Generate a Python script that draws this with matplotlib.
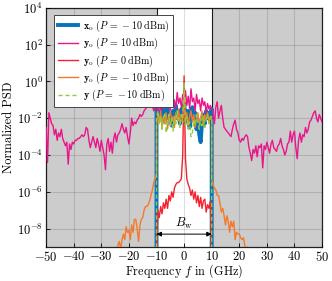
import numpy as np
import matplotlib
matplotlib.use("Agg")
import matplotlib.pyplot as plt

plt.rcParams['font.family'] = 'serif'
plt.rcParams['font.serif'] = ['cmr10']
plt.rcParams['mathtext.fontset'] = 'cm'
plt.rcParams['axes.formatter.use_mathtext'] = True

# frequency grids (GHz)
f_full = np.arange(-50, 50.5, 0.5)
f_band = np.arange(-10, 10.5, 0.5)
f_orange_left = np.arange(-25, -9.5, 0.5)
f_orange_right = np.arange(10, 24.5, 0.5)

# log10 of normalized PSD, y_o at P = 10 dBm (-50 ... 50)
pink_left = [-2.5, -4.4, -1.7, -2.0, -2.3, -2.4, -2.9, -2.6, -3.2, -2.8,
             -3.0, -2.6, -3.1, -3.3, -3.5, -3.3, -4.5, -3.4, -3.7, -3.3,
             -3.4, -3.2, -3.2, -3.1, -3.1, -3.0, -2.9, -3.0, -2.9, -2.5,
             -2.6, -3.2, -3.6, -3.3, -3.0, -3.3, -3.6, -3.1, -3.4, -3.8,
             -3.2, -3.6, -4.0, -4.8, -3.4, -3.1, -3.8, -3.3, -3.9, -3.1,
             -2.8, -3.3, -2.9, -2.8, -2.6, -2.3, -2.6, -2.8, -2.5, -3.0,
             -3.4, -2.8, -2.0, -2.4, -2.2, -2.3, -2.1, -2.0, -1.8, -1.9,
             -1.8, -1.6, -1.5, -1.4, -1.1, -1.0, -1.0, -1.3, -1.6, -1.4]
pink_mid = [-1.2, -1.8, -1.2, -1.6, -1.0, -1.5, -1.3, -0.8, -1.4, -1.1,
            -1.6, -0.9, -1.3, -1.0, -1.5, -0.6, -1.2, -0.9, -1.4, -0.7,
            -1.0, -0.5, -1.3, -0.8, -1.5, -0.4, -1.1, -0.9, -1.6, -0.7,
            -1.2, -1.0, -1.6, -0.9, -1.3, -1.1, -1.7, -1.2, -1.5, -1.3,
            -1.5]
pink_right = [-1.7, -2.3, -1.4, -1.1, -2.0, -1.6, -1.3, -2.0, -2.5,
              -2.6, -2.7, -2.8, -2.9, -3.0, -2.6, -2.3, -2.1, -2.6, -2.8,
              -3.2, -3.3, -3.1, -3.2, -3.0, -2.9, -3.0, -3.6, -3.9, -4.3,
              -3.7, -3.9, -3.5, -4.1, -3.5, -3.6, -3.4, -4.7, -3.5, -3.7,
              -3.3, -3.6, -3.9, -3.4, -3.2, -3.6, -3.7, -3.8, -3.5, -3.4,
              -3.1, -3.5, -3.7, -4.0, -3.8, -3.4, -3.3, -2.7, -3.3, -2.9,
              -2.7, -3.6, -4.2, -3.2, -2.8, -3.3, -2.9, -3.0, -2.5, -2.8,
              -2.6, -2.2, -2.1, -1.9, -1.7, -1.6, -2.0, -2.2, -1.8, -2.0,
              -2.2]
pink = pink_left + pink_mid + pink_right

# x_o at P = -10 dBm (in band)
blue = [-1.5, -1.7, -2.1, -1.6, -1.9, -1.4, -2.2, -1.8, -1.5, -2.0,
        -1.7, -2.4, -1.6, -1.9, -1.3, -2.0, -1.7, -2.3, -1.5, -1.9,
        -1.2, -1.8, -2.2, -1.6, -2.5, -1.9, -1.4, -2.0, -1.7, -2.6,
        -2.1, -2.9, -3.3, -2.2, -1.8, -2.3, -1.6, -2.0, -1.7, -1.9,
        -1.5]

# y_o at P = 0 dBm (in band)
red = [-9.8, -7.0, -7.4, -6.8, -7.2, -6.6, -6.9, -6.4, -6.9, -6.2,
       -6.5, -6.0, -6.3, -5.8, -5.6, -5.5, -5.5, -5.4, -5.3, -4.0,
       0.3, -4.2, -5.3, -5.6, -5.8, -6.2, -5.9, -6.4, -6.0, -6.6,
       -6.2, -6.8, -6.3, -6.9, -6.5, -6.4, -7.1, -6.7, -6.9, -6.5,
       -9.8]

# y_o at P = -10 dBm
orange_left = [-9.5, -9.2, -8.9, -8.7, -9.1, -8.6, -8.3, -8.6, -7.9, -8.2,
               -8.1, -8.6, -7.8, -8.2, -7.5, -7.5, -8.0, -8.7, -7.8, -7.5,
               -7.4, -7.0, -6.8, -6.8, -6.7, -6.5, -6.2, -5.9, -5.5, -5.3,
               -5.0]
orange_mid = [-2.4, -1.8, -2.2, -1.6, -2.5, -1.9, -2.3, -1.7, -2.6, -2.0,
              -1.6, -2.2, -1.9, -2.5, -1.7, -2.1, -1.5, -2.3, -1.8, -2.0,
              -0.6, -2.2, -1.7, -2.4, -1.9, -1.6, -2.2, -1.8, -2.5, -1.9,
              -1.7, -2.3, -2.0, -1.6, -2.4, -1.8, -2.1, -1.7, -2.2, -1.9,
              -2.1]
orange_right = [-5.3, -5.6, -5.8, -5.9, -6.2, -6.2, -6.6, -7.1, -6.9, -7.3,
                -7.8, -7.3, -7.6, -8.2, -7.6, -7.9, -7.6, -8.6, -8.2, -8.3,
                -8.3, -8.5, -8.6, -8.5, -8.9, -9.2, -9.0, -9.4, -9.6]

# y at P = -10 dBm (in band)
green = [-2.0, -1.6, -2.3, -1.9, -2.6, -2.0, -1.7, -2.8, -2.2, -1.8,
         -2.4, -2.0, -2.7, -1.9, -2.3, -1.6, -2.1, -2.5, -1.8, -2.2,
         -0.1, -2.4, -1.9, -2.6, -2.2, -3.0, -2.8, -2.1, -2.4, -1.8,
         -2.2, -2.6, -2.0, -2.4, -1.9, -2.5, -2.1, -1.8, -2.3, -2.0,
         -1.9]

floor = -12.0
f_edge = np.concatenate([[-10], f_band, [10]])

def with_edges(vals):
    return 10.0 ** np.concatenate([[floor], vals, [floor]])

fig = plt.figure(figsize=(3.32, 2.81), dpi=100)
ax = fig.add_axes([0.139, 0.121, 0.831, 0.851])

ax.axvspan(-50, -10, color='#cccccc', lw=0, zorder=0)
ax.axvspan(10, 50, color='#cccccc', lw=0, zorder=0)
ax.axvline(-10, color='#222222', lw=0.8, zorder=1)
ax.axvline(10, color='#222222', lw=0.8, zorder=1)

ax.plot(f_edge, with_edges(blue), color='#0a72ba', lw=2.8,
        label=r'$\mathbf{x}_\mathrm{o}\ (P\,=\,-10\;\mathrm{dBm})$', zorder=3)
ax.plot(f_full, 10.0 ** np.array(pink), color='#e8168a', lw=1.0,
        label=r'$\mathbf{y}_\mathrm{o}\ (P\,=\,10\;\mathrm{dBm})$', zorder=3)
ax.plot(f_edge, with_edges(red), color='#f5222d', lw=1.0,
        label=r'$\mathbf{y}_\mathrm{o}\ (P\,=\,0\;\mathrm{dBm})$', zorder=3)
f_or = np.concatenate([f_orange_left, f_band, f_orange_right])
ax.plot(f_or, 10.0 ** np.array(orange_left + orange_mid + orange_right),
        color='#f4792a', lw=1.0,
        label=r'$\mathbf{y}_\mathrm{o}\ (P\,=\,-10\;\mathrm{dBm})$', zorder=3)
ax.plot(f_edge, with_edges(green), color='#8cd03c', lw=1.0, ls=(0, (3, 2)),
        label=r'$\mathbf{y}\ (P\,=\,-10\;\mathrm{dBm})$', zorder=3)

ax.annotate('', xy=(-10, 10 ** -8.3), xytext=(10, 10 ** -8.3),
            arrowprops=dict(arrowstyle='<|-|>', color='black', lw=0.7,
                            mutation_scale=7, shrinkA=0, shrinkB=0), zorder=4)
ax.text(0, 10 ** -7.7, r'$B_\mathrm{w}$', ha='center', va='center', fontsize=9)

ax.set_yscale('log')
ax.set_xlim(-50, 50)
ax.set_ylim(1e-9, 1e4)
ax.set_xticks(np.arange(-50, 51, 10))
ax.set_yticks([1e-8, 1e-6, 1e-4, 1e-2, 1e0, 1e2, 1e4])
ax.yaxis.set_minor_locator(matplotlib.ticker.NullLocator())
ax.tick_params(direction='in', labelsize=9, length=3, width=0.6, pad=2.5)
ax.grid(True, color='black', alpha=0.13, lw=0.8, zorder=2)
ax.set_axisbelow(False)
for s in ax.spines.values():
    s.set_linewidth(0.9)
    s.set_color('#222222')

ax.set_xlabel(r'Frequency $f$ in (GHz)', fontsize=8.8)
ax.xaxis.set_label_coords(0.5, -0.065)
ax.set_ylabel('Normalized PSD', fontsize=9, labelpad=1)

leg = ax.legend(loc='upper left', fontsize=7.2, fancybox=False, framealpha=1,
                edgecolor='#444444', handlelength=2.0, borderpad=0.35,
                labelspacing=0.2, handletextpad=0.5, borderaxespad=0,
                bbox_to_anchor=(0.03, 0.97))
leg.get_frame().set_linewidth(0.7)
leg.set_zorder(5)

fig.savefig('out.png', dpi=100)
